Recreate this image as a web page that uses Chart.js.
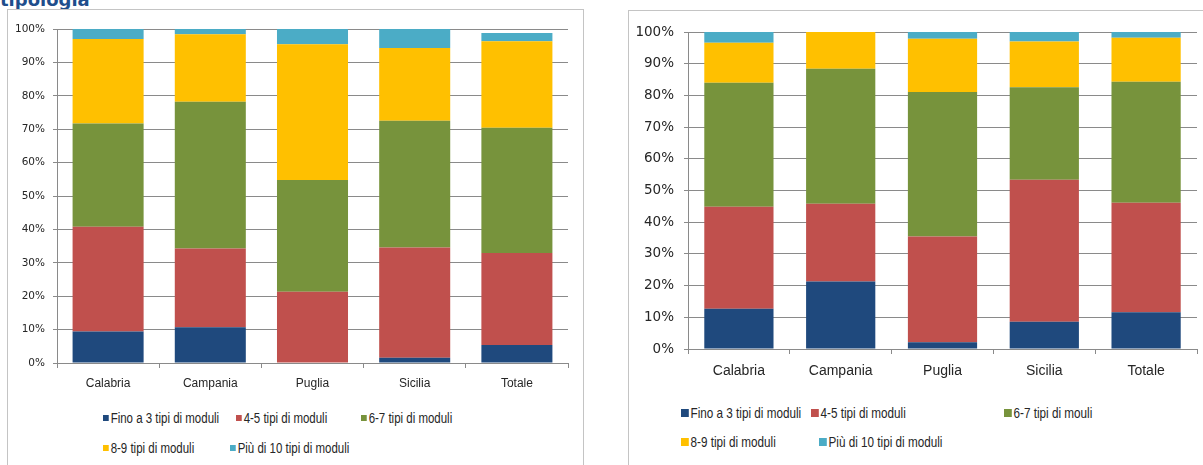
<!DOCTYPE html>
<html>
<head>
<meta charset="utf-8">
<script src="https://cdn.jsdelivr.net/npm/chart.js@4/dist/chart.umd.min.js"></script>
<style>
  html, body { margin: 0; padding: 0; background: #fff; }
  #page { position: relative; width: 1203px; height: 465px; overflow: hidden; }
  .title { position: absolute; left: 0; top: -9px; font: bold 18px 'DejaVu Sans', Verdana, sans-serif; line-height: 18px; color: #1f4e8c; }
  .frame { position: absolute; border: 1px solid #c4c4c4; box-sizing: border-box; }
  .chartbox { position: absolute; }
  .lg { position: absolute; white-space: nowrap; color: #262626; font-family: 'Liberation Sans', Arial, sans-serif; transform-origin: 0 50%; }
  .lg i { display: inline-block; vertical-align: middle; margin-right: 2px; position: relative; top: -1px; }
</style>
</head>
<body>
<div id="page">
  <div class="title">tipologia</div>
  <div class="frame" style="left:7px; top:9px; width:577px; height:470px;"></div>
  <div class="frame" style="left:628px; top:10px; width:590px; height:470px;"></div>
  <div class="chartbox" style="left:8px; top:10px; width:574px; height:395px;"><canvas id="chartLeft"></canvas></div>
  <div class="chartbox" style="left:629px; top:11px; width:574px; height:385px;"><canvas id="chartRight"></canvas></div>
  <div id="legendLeft"></div>
  <div id="legendRight"></div>
</div>
<script>
// regions on the x axis
const regions = ['Calabria', 'Campania', 'Puglia', 'Sicilia', 'Totale'];

// series names (the right chart keeps its own wording)
const seriesLeft = ['Fino a 3 tipi di moduli', '4-5 tipi di moduli', '6-7 tipi di moduli', '8-9 tipi di moduli', 'Più di 10 tipi di moduli'];
const seriesRight = ['Fino a 3 tipi di moduli', '4-5 tipi di moduli', '6-7 tipi di mouli', '8-9 tipi di moduli', 'Più di 10 tipi di moduli'];
const seriesColors = ['#1f497d', '#c0504d', '#77933c', '#ffc000', '#4bacc6'];

// percentages per region, left chart
const leftFino3 = [9.4, 10.7, 0, 1.6, 5.4];
const left4to5 = [31.4, 23.6, 21.3, 33.0, 27.5];
const left6to7 = [30.9, 43.9, 33.5, 37.9, 37.5];
const left8to9 = [25.3, 20.2, 40.6, 21.8, 25.9];
const leftOver10 = [3.0, 1.6, 4.6, 5.7, 2.5];

// percentages per region, right chart
const rightFino3 = [12.7, 21.3, 2.1, 8.6, 11.6];
const right4to5 = [32.2, 24.5, 33.4, 44.8, 34.5];
const right6to7 = [39.1, 42.6, 45.6, 29.2, 38.2];
const right8to9 = [12.6, 11.6, 16.8, 14.4, 13.9];
const rightOver10 = [3.4, 0, 2.1, 3.0, 1.8];

const yTicks = [0, 10, 20, 30, 40, 50, 60, 70, 80, 90, 100];

const GRID = '#8a8a8a';
const TEXT = '#262626';

function makeChart(id, labels, values, cfg) {
    const datasets = values.map((v, i) => ({
        label: labels[i],
        data: v,
        backgroundColor: seriesColors[i],
        borderWidth: 0,
        categoryPercentage: cfg.catPct,
        barPercentage: 1
    }));

    return new Chart(document.getElementById(id), {
        type: 'bar',
        data: { labels: regions, datasets: datasets },
        options: {
            responsive: true,
            maintainAspectRatio: false,
            animation: false,
            layout: { padding: { top: cfg.top, right: cfg.right, left: 0, bottom: 0 } },
            plugins: { legend: { display: false }, tooltip: { enabled: false } },
            scales: {
                x: {
                    stacked: true,
                    afterFit: s => { s.height = cfg.xHeight; },
                    border: { color: GRID, width: 1 },
                    grid: { offset: true, drawOnChartArea: false, drawTicks: true, tickLength: 5, color: GRID },
                    ticks: {
                        color: TEXT,
                        padding: cfg.xPad,
                        font: { family: "'Liberation Sans', Arial, sans-serif", size: cfg.catSize }
                    }
                },
                y: {
                    stacked: true,
                    min: 0,
                    max: 100,
                    afterFit: s => { s.width = cfg.yWidth; },
                    afterBuildTicks: s => { s.ticks = yTicks.map(v => ({ value: v })); },
                    border: { color: GRID, width: 1 },
                    grid: { color: GRID, tickLength: 4, lineWidth: 1 },
                    ticks: {
                        color: TEXT,
                        padding: cfg.yPad,
                        font: { family: "'DejaVu Sans', Verdana, sans-serif", size: cfg.tickSize },
                        callback: v => v + '%'
                    }
                }
            }
        }
    });
}

makeChart('chartLeft', seriesLeft,
    [leftFino3, left4to5, left6to7, left8to9, leftOver10],
    { top: 19, right: 14, xHeight: 42, yWidth: 49, catPct: 0.695, xPad: 8, yPad: 8, catSize: 12, tickSize: 10.5 });

makeChart('chartRight', seriesRight,
    [rightFino3, right4to5, right6to7, right8to9, rightOver10],
    { top: 21, right: 6, xHeight: 47, yWidth: 59, catPct: 0.68, xPad: 9, yPad: 10, catSize: 14, tickSize: 13.5 });

// legend rows: [series index, x, y]
function buildLegend(el, labels, items, size, sq, squeeze) {
    const box = document.getElementById(el);
    items.forEach(([i, x, y]) => {
        const d = document.createElement('div');
        d.className = 'lg';
        d.style.left = x + 'px';
        d.style.top = (y - size * 0.6) + 'px';
        d.style.fontSize = size + 'px';
        d.style.lineHeight = (size * 1.2) + 'px';
        d.style.transform = 'scaleX(' + squeeze + ')';
        d.innerHTML = '<i style="width:' + (sq / squeeze) + 'px;height:' + sq + 'px;background:' + seriesColors[i] + '"></i>' + labels[i];
        box.appendChild(d);
    });
}

buildLegend('legendLeft', seriesLeft,
    [[0, 103, 418], [1, 236, 418], [2, 361, 418], [3, 103, 448], [4, 230, 448]], 14, 6, 0.82);
buildLegend('legendRight', seriesRight,
    [[0, 681, 413], [1, 811, 413], [2, 1004, 413], [3, 681, 442], [4, 819, 442]], 15, 8, 0.78);
</script>
</body>
</html>
